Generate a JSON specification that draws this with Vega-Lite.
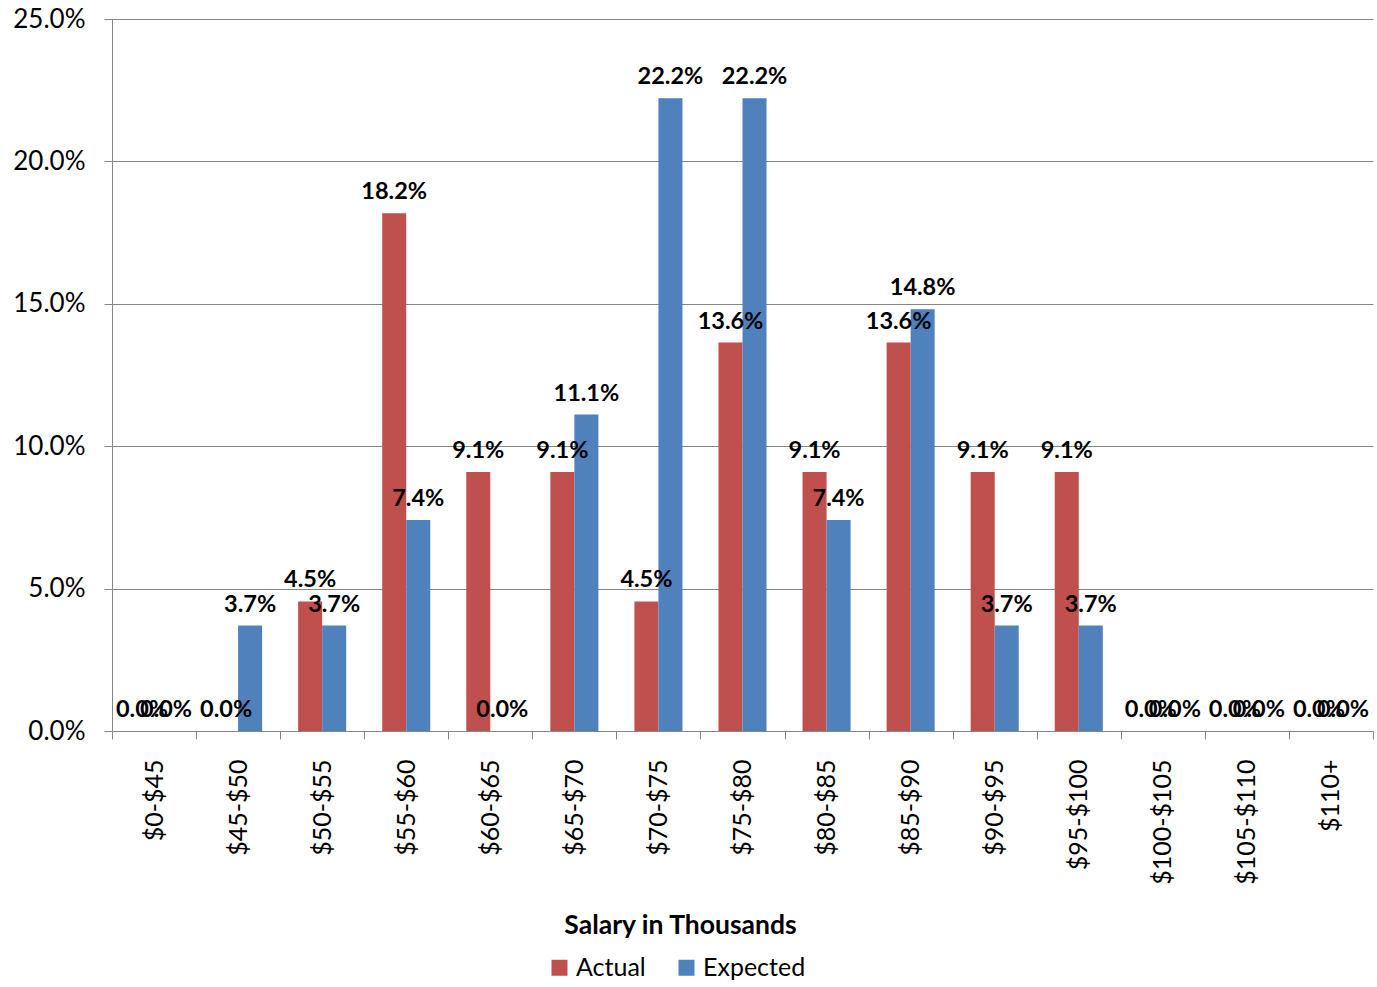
{
  "$schema": "https://vega.github.io/schema/vega-lite/v6.json",
  "width": 1261,
  "height": 712,
  "autosize": {"type": "none"},
  "padding": {"left": 112, "top": 19, "right": 4, "bottom": 256},
  "config": {"font": "Lato", "view": {"stroke": null}},
  "data": {
    "values": [
      {"range": "$0-$45", "series": "Actual", "pct": 0},
      {"range": "$0-$45", "series": "Expected", "pct": 0},
      {"range": "$45-$50", "series": "Actual", "pct": 0},
      {"range": "$45-$50", "series": "Expected", "pct": 0.037},
      {"range": "$50-$55", "series": "Actual", "pct": 0.0455},
      {"range": "$50-$55", "series": "Expected", "pct": 0.037},
      {"range": "$55-$60", "series": "Actual", "pct": 0.1818},
      {"range": "$55-$60", "series": "Expected", "pct": 0.0741},
      {"range": "$60-$65", "series": "Actual", "pct": 0.0909},
      {"range": "$60-$65", "series": "Expected", "pct": 0},
      {"range": "$65-$70", "series": "Actual", "pct": 0.0909},
      {"range": "$65-$70", "series": "Expected", "pct": 0.1111},
      {"range": "$70-$75", "series": "Actual", "pct": 0.0455},
      {"range": "$70-$75", "series": "Expected", "pct": 0.2222},
      {"range": "$75-$80", "series": "Actual", "pct": 0.1364},
      {"range": "$75-$80", "series": "Expected", "pct": 0.2222},
      {"range": "$80-$85", "series": "Actual", "pct": 0.0909},
      {"range": "$80-$85", "series": "Expected", "pct": 0.0741},
      {"range": "$85-$90", "series": "Actual", "pct": 0.1364},
      {"range": "$85-$90", "series": "Expected", "pct": 0.1481},
      {"range": "$90-$95", "series": "Actual", "pct": 0.0909},
      {"range": "$90-$95", "series": "Expected", "pct": 0.037},
      {"range": "$95-$100", "series": "Actual", "pct": 0.0909},
      {"range": "$95-$100", "series": "Expected", "pct": 0.037},
      {"range": "$100-$105", "series": "Actual", "pct": 0},
      {"range": "$100-$105", "series": "Expected", "pct": 0},
      {"range": "$105-$110", "series": "Actual", "pct": 0},
      {"range": "$105-$110", "series": "Expected", "pct": 0},
      {"range": "$110+", "series": "Actual", "pct": 0},
      {"range": "$110+", "series": "Expected", "pct": 0}
    ]
  },
  "encoding": {
    "x": {
      "field": "range",
      "type": "nominal",
      "sort": null,
      "scale": {"paddingInner": 0, "paddingOuter": 0},
      "axis": {
        "title": "Salary in Thousands",
        "titleFontSize": 26.5,
        "titleFontWeight": "bold",
        "titleColor": "#000000",
        "titleX": 568,
        "titleY": 194,
        "titleAlign": "center",
        "titleBaseline": "middle",
        "labelAngle": -90,
        "labelFontSize": 25,
        "labelColor": "#000000",
        "labelPadding": 20,
        "labelLimit": 0,
        "labelOverlap": false,
        "tickBand": "extent",
        "tickSize": 8,
        "tickColor": "#868686",
        "domainColor": "#868686",
        "grid": false
      }
    },
    "xOffset": {
      "field": "series",
      "type": "nominal",
      "sort": ["Actual", "Expected"],
      "scale": {"paddingInner": 0, "paddingOuter": 0.75}
    },
    "y": {
      "field": "pct",
      "type": "quantitative",
      "scale": {"domain": [0, 0.25], "nice": false},
      "axis": {
        "title": null,
        "format": ".1%",
        "values": [0, 0.05, 0.1, 0.15, 0.2, 0.25],
        "labelFontSize": 26,
        "labelColor": "#000000",
        "labelPadding": 19,
        "tickSize": 8,
        "tickColor": "#868686",
        "domainColor": "#868686",
        "gridColor": "#868686",
        "grid": true
      }
    }
  },
  "layer": [
    {
      "mark": {"type": "bar"},
      "encoding": {
        "color": {
          "field": "series",
          "type": "nominal",
          "scale": {"domain": ["Actual", "Expected"], "range": ["#C0504D", "#4F81BD"]},
          "legend": {
            "orient": "none",
            "legendX": 435,
            "legendY": 936,
            "direction": "horizontal",
            "title": null,
            "symbolType": "square",
            "symbolSize": 256,
            "symbolStrokeWidth": 0,
            "symbolOpacity": 1,
            "labelFontSize": 25,
            "labelColor": "#000000",
            "columnPadding": 28
          }
        }
      }
    },
    {
      "mark": {"type": "text", "baseline": "alphabetic", "dy": -14, "fontSize": 23.5, "fontWeight": "bold", "color": "#000000"},
      "encoding": {
        "text": {"field": "pct", "type": "quantitative", "format": ".1%"}
      }
    }
  ]
}
